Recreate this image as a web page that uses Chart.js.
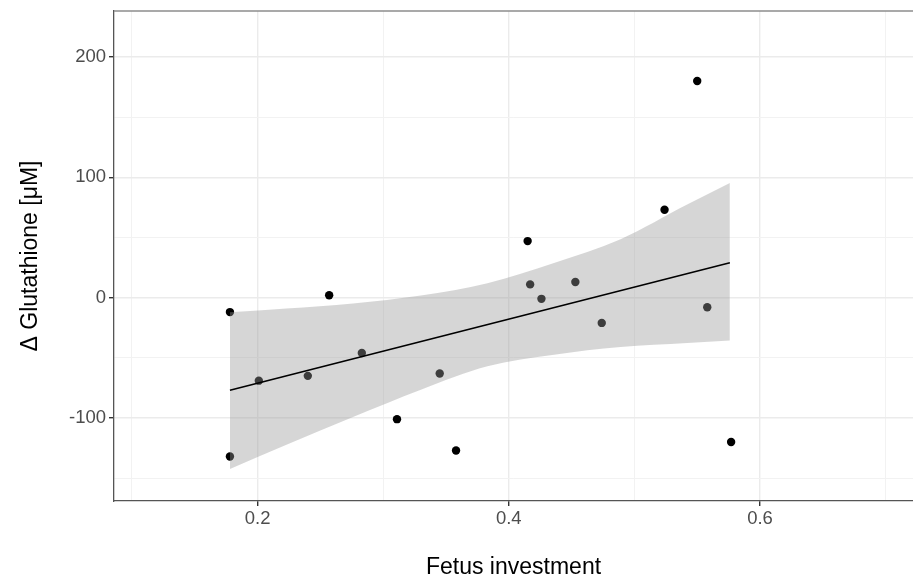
<!DOCTYPE html>
<html>
<head>
<meta charset="utf-8">
<script src="https://cdn.jsdelivr.net/npm/chart.js@4.4.1/dist/chart.umd.min.js"></script>
<style>
  html, body { margin: 0; padding: 0; background: #fff; overflow: hidden; }
</style>
</head>
<body>
<canvas id="myChart" width="913" height="581"></canvas>
<script>
// measured samples
const investment = [0.178, 0.178, 0.201, 0.240, 0.257, 0.283, 0.311, 0.345, 0.358,
                    0.415, 0.417, 0.426, 0.453, 0.474, 0.524, 0.550, 0.558, 0.577];
const glutathione = [-12, -132, -69, -65, 2, -46, -101, -63, -127,
                     47, 11, -1, 13, -21, 73, 180, -8, -120];

// linear fit and its confidence band
const fitX = [0.178, 0.576];
const fitY = [-77, 29];
const bandX = [0.178, 0.223, 0.276, 0.330, 0.383, 0.436, 0.489, 0.542, 0.576];
const bandUpper = [-12.2, -9.0, -4.8, 1.8, 12, 28.8, 48.6, 77.3, 95.3];
const bandLower = [-142.4, -122.2, -99.2, -76.5, -57.1, -47.4, -41, -37.7, -35.7];

// axis ticks
const xMajor = [0.2, 0.4, 0.6];
const xMinor = [0.1, 0.3, 0.5, 0.7];
const yMajor = [-100, 0, 100, 200];
const yMinor = [-150, -50, 50, 150];

const toXY = (xs, ys) => xs.map((x, i) => ({x: x, y: ys[i]}));
const isMajor = (list, v) => list.some(m => Math.abs(m - v) < 1e-6);

const fontFamily = '"Liberation Sans", Arial, sans-serif';

// ggplot-like panel border on top edge
const topBorder = {
  id: 'topBorder',
  afterDraw(chart) {
    const a = chart.chartArea;
    const c = chart.ctx;
    c.save();
    c.strokeStyle = '#8c8c8c';
    c.lineWidth = 1.6;
    c.beginPath();
    c.moveTo(a.left, a.top);
    c.lineTo(a.right, a.top);
    c.stroke();
    c.restore();
  }
};

const ctx = document.getElementById('myChart');
new Chart(ctx, {
  type: 'scatter',
  data: {
    datasets: [
      {
        data: toXY(fitX, fitY),
        showLine: true,
        borderColor: '#000',
        borderWidth: 1.6,
        pointRadius: 0,
        order: 0
      },
      {
        data: toXY(bandX, bandUpper),
        showLine: true,
        cubicInterpolationMode: 'monotone',
        borderColor: 'rgba(0,0,0,0)',
        pointRadius: 0,
        fill: '+1',
        backgroundColor: 'rgba(153,153,153,0.4)',
        order: 1
      },
      {
        data: toXY(bandX, bandLower),
        showLine: true,
        cubicInterpolationMode: 'monotone',
        borderColor: 'rgba(0,0,0,0)',
        pointRadius: 0,
        fill: false,
        order: 2
      },
      {
        data: toXY(investment, glutathione),
        backgroundColor: '#000',
        borderWidth: 0,
        pointRadius: 4.2,
        order: 3
      }
    ]
  },
  options: {
    responsive: false,
    animation: false,
    layout: {
      autoPadding: false,
      padding: { top: 11, right: 0, left: 0, bottom: 0 }
    },
    plugins: {
      legend: { display: false },
      tooltip: { enabled: false }
    },
    scales: {
      x: {
        type: 'linear',
        min: 0.0857,
        max: 0.7218,
        afterBuildTicks: (scale) => {
          scale.ticks = xMinor.concat(xMajor).sort((a, b) => a - b).map(v => ({value: v}));
        },
        afterFit: (scale) => {
          scale.height = 80;
          scale.paddingLeft = 0;
          scale.paddingRight = 0;
        },
        ticks: {
          autoSkip: false,
          maxRotation: 0,
          padding: 2,
          color: '#4d4d4d',
          font: { family: fontFamily, size: 18.5 },
          callback: (v) => isMajor(xMajor, v) ? v.toFixed(1) : ''
        },
        grid: {
          color: (c) => isMajor(xMajor, c.tick.value) ? '#ebebeb' : '#f2f2f2',
          lineWidth: (c) => isMajor(xMajor, c.tick.value) ? 1.4 : 1,
          tickColor: (c) => isMajor(xMajor, c.tick.value) ? '#333' : 'rgba(0,0,0,0)',
          tickLength: 5
        },
        border: { color: '#555', width: 1.3 },
        title: {
          display: true,
          text: 'Fetus investment',
          color: '#000',
          font: { family: fontFamily, size: 23 },
          padding: { top: 0, bottom: 0 }
        }
      },
      y: {
        type: 'linear',
        min: -169,
        max: 238.2,
        afterBuildTicks: (scale) => {
          scale.ticks = yMinor.concat(yMajor).sort((a, b) => a - b).map(v => ({value: v}));
        },
        afterFit: (scale) => {
          scale.width = 114;
          scale.paddingTop = 0;
          scale.paddingBottom = 0;
        },
        ticks: {
          autoSkip: false,
          padding: 3,
          color: '#4d4d4d',
          font: { family: fontFamily, size: 18.5 },
          callback: (v) => isMajor(yMajor, v) ? String(v) : ''
        },
        grid: {
          color: (c) => isMajor(yMajor, c.tick.value) ? '#ebebeb' : '#f2f2f2',
          lineWidth: (c) => isMajor(yMajor, c.tick.value) ? 1.4 : 1,
          tickColor: (c) => isMajor(yMajor, c.tick.value) ? '#333' : 'rgba(0,0,0,0)',
          tickLength: 5
        },
        border: { color: '#555', width: 1.3 },
        title: {
          display: true,
          text: 'Δ Glutathione [μM]',
          color: '#000',
          font: { family: fontFamily, size: 23 },
          padding: { top: 17, bottom: 0 }
        }
      }
    }
  },
  plugins: [topBorder]
});
</script>
</body>
</html>
